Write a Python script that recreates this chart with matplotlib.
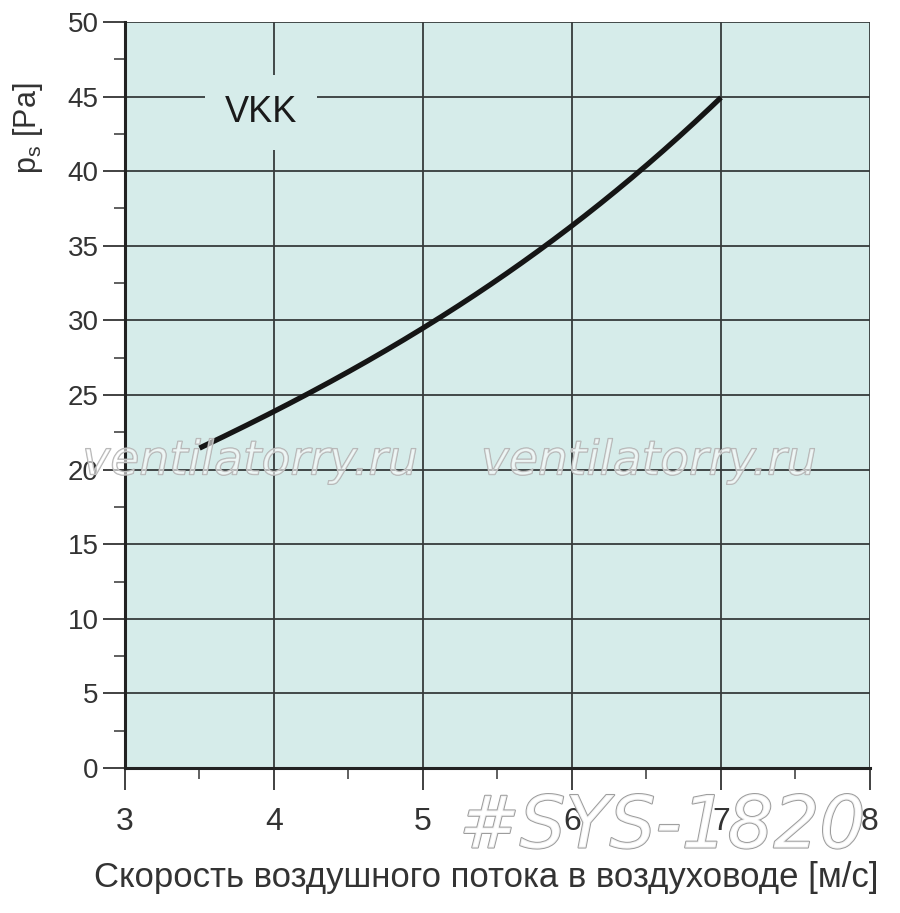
import matplotlib
matplotlib.use("Agg")
import matplotlib.pyplot as plt
import matplotlib.patheffects as pe
import numpy as np
from matplotlib.ticker import MultipleLocator

# data
velocity = [3.5, 4.0, 4.5, 5.0, 5.5, 6.0, 6.5, 7.0]
pressure = [21.5, 23.8, 26.5, 29.6, 32.8, 36.3, 40.3, 45.0]
x_ticks = [3, 4, 5, 6, 7, 8]
y_ticks = [0, 5, 10, 15, 20, 25, 30, 35, 40, 45, 50]
series_label = "VKK"
xlabel = "Скорость воздушного потока в воздуховоде [м/с]"
ylabel = r"p$_\mathregular{s}$ [Pa]"

BG = "#d6ecea"
GRID = "#363b3b"

plt.rcParams['font.family'] = ['Liberation Sans', 'DejaVu Sans']

fig = plt.figure(figsize=(9.0, 9.13), dpi=100)
ax = fig.add_axes([125/900, 1-768/913, (870-125)/900, (768-22)/913])
ax.set_facecolor(BG)

# smooth curve through read points
xs = np.linspace(velocity[0], velocity[-1], 200)
coef = np.polyfit(velocity, pressure, 3)
ax.plot(xs, np.polyval(coef, xs), color="#151515", lw=3.8, solid_capstyle='butt', zorder=4)

ax.set_xlim(3, 8)
ax.set_ylim(0, 50)
ax.set_xticks(x_ticks)
ax.set_yticks(y_ticks)
ax.xaxis.set_minor_locator(MultipleLocator(0.5))
ax.yaxis.set_minor_locator(MultipleLocator(2.5))
ax.grid(True, which='major', color=GRID, lw=1.3)
ax.set_axisbelow(True)

for s in ['top', 'right']:
    ax.spines[s].set_visible(False)
for s in ['left', 'bottom']:
    ax.spines[s].set_linewidth(2.2)
    ax.spines[s].set_color("#222222")
    ax.spines[s].set_zorder(5)

ax.tick_params(axis='both', which='major', direction='out', length=16, width=1.3,
               color="#333333", labelcolor="#333333")
ax.tick_params(axis='y', which='major', pad=3, labelsize=20)
ax.tick_params(axis='x', which='major', pad=12, labelsize=23)
ax.tick_params(axis='both', which='minor', direction='out', length=8, width=1.2, color="#444444")

ax.set_xlabel(xlabel, fontsize=25, color="#333333")
ax.xaxis.set_label_coords(0.485, -0.125)
ax.set_ylabel(ylabel, fontsize=22, color="#333333")
ax.yaxis.set_label_coords(-0.107, 0.858)

ax.text(3.91, 43.95, series_label, fontsize=26, color="#1a1a1a", ha='center', va='center',
        zorder=6, bbox=dict(boxstyle='square,pad=0.55', fc=BG, ec='none'))

# watermarks
wm = [pe.withStroke(linewidth=1.0, foreground="#b0b0b0")]
for xw in [0.278, 0.721]:
    fig.text(xw, 0.494, "ventilatorry.ru", fontsize=34, style='italic', weight='light',
             color=(1, 1, 1, 0.35), ha='center', va='center', path_effects=wm,
             family='DejaVu Sans', zorder=10)
fig.text(0.736, 0.093, "#SYS-1820", fontsize=52, style='italic', weight='normal',
         color=(1, 1, 1, 0.85), ha='center', va='center',
         path_effects=[pe.withStroke(linewidth=1.4, foreground="#9a9a9a")],
         family='DejaVu Sans', zorder=10)

fig.savefig("out.png", dpi=100, facecolor='white')
